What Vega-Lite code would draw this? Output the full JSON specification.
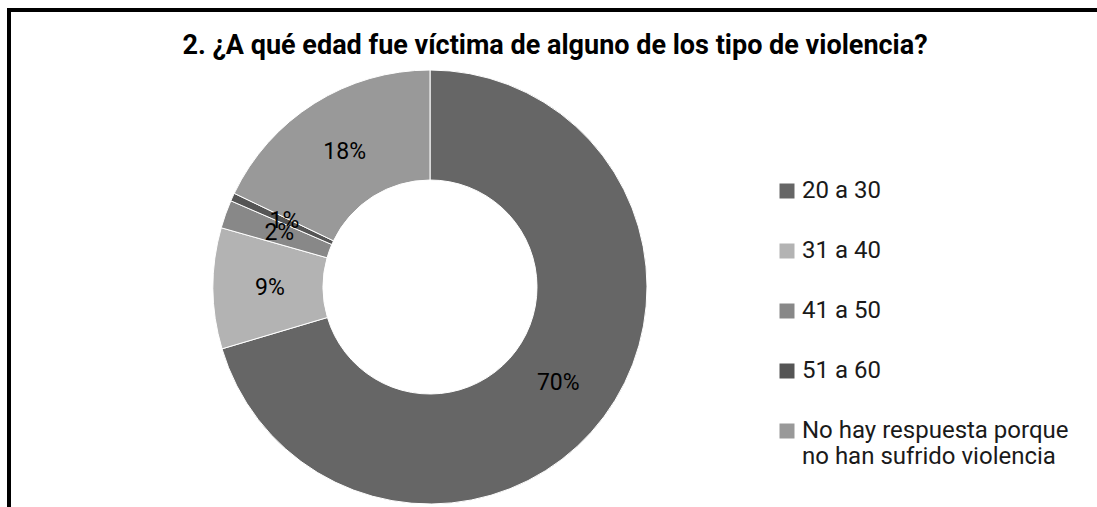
{
  "$schema": "https://vega.github.io/schema/vega-lite/v6.json",
  "width": 1100,
  "height": 554,
  "autosize": {"type": "none"},
  "padding": {"left": 9, "top": 10, "right": 0, "bottom": 0},
  "background": "white",
  "view": {"stroke": "black", "strokeWidth": 4},
  "config": {
    "view": {"stroke": "black", "strokeWidth": 4},
    "font": "Roboto"
  },
  "title": {
    "text": "2. ¿A qué edad fue víctima de alguno de los tipo de violencia?",
    "font": "Roboto",
    "fontSize": 27,
    "fontWeight": "bold",
    "color": "black",
    "anchor": "middle",
    "dx": -4,
    "dy": 54
  },
  "data": {
    "values": [
      {"edad": "20 a 30", "valor": 0.704, "orden": 1},
      {"edad": "31 a 40", "valor": 0.090, "orden": 2},
      {"edad": "41 a 50", "valor": 0.021, "orden": 3},
      {"edad": "51 a 60", "valor": 0.006, "orden": 4},
      {"edad": "No hay respuesta porque no han sufrido violencia", "valor": 0.179, "orden": 5}
    ]
  },
  "encoding": {
    "theta": {"field": "valor", "type": "quantitative", "stack": true},
    "order": {"field": "orden", "type": "quantitative"}
  },
  "layer": [
    {
      "mark": {"type": "arc", "innerRadius": 107, "outerRadius": 217, "stroke": "white", "strokeWidth": 1, "xOffset": -129},
      "encoding": {
        "color": {
          "field": "edad",
          "type": "nominal",
          "scale": {
            "domain": ["20 a 30", "31 a 40", "41 a 50", "51 a 60", "No hay respuesta porque no han sufrido violencia"],
            "range": ["#666666", "#b3b3b3", "#888888", "#555555", "#999999"]
          },
          "legend": {
            "title": null,
            "orient": "none",
            "legendX": 766,
            "legendY": 169,
            "padding": 0,
            "symbolType": "square",
            "symbolSize": 225,
            "symbolStrokeWidth": 0,
            "labelFont": "Roboto",
            "labelFontSize": 24,
            "labelColor": "#1a1a1a",
            "labelOffset": 3,
            "labelLimit": 400,
            "rowPadding": 36,
            "labelExpr": "datum.label == 'No hay respuesta porque no han sufrido violencia' ? ['No hay respuesta porque', 'no han sufrido violencia'] : datum.label"
          }
        }
      }
    },
    {
      "mark": {"type": "text", "radius": 160, "font": "Roboto", "fontSize": 23, "color": "black", "xOffset": -129},
      "encoding": {
        "text": {"field": "valor", "type": "quantitative", "format": ".0%"}
      }
    }
  ]
}
